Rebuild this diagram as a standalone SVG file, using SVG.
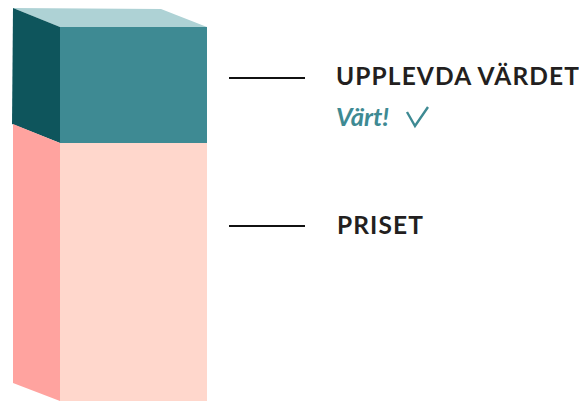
<svg xmlns="http://www.w3.org/2000/svg" width="579" height="401" viewBox="0 0 579 401">
<style>
.lbl{font-family:"Lato","Liberation Sans",sans-serif;font-weight:bold;fill:#231f20;font-size:24.5px;letter-spacing:1.1px}
.sub{font-family:"Lato","Liberation Sans",sans-serif;font-weight:bold;font-style:italic;fill:#3e8a93;font-size:25.5px}
.ln{stroke:#111;stroke-width:2.2;fill:none}
</style>
<g id="bar">
<g id="value-block">
<polygon points="13,8 161,9 207,27 60,27" fill="#aed2d5"/>
<polygon points="13,8 60,27 60,143 12,124" fill="#0e555c"/>
<rect x="60" y="27" width="147" height="116" fill="#3e8a93"/>
</g>
<g id="price-block">
<polygon points="13,124 60,143 60,401 13,383" fill="#ffa39f"/>
<rect x="60" y="143" width="147" height="258" fill="#ffd7cc"/>
</g>
</g>
<g id="connectors">
<line class="ln" x1="229" y1="78" x2="305" y2="78"/>
<line class="ln" x1="229" y1="226" x2="305" y2="226"/>
</g>
<g id="label-value">
<text class="lbl" x="336" y="85">UPPLEVDA VÄRDET</text>
<text class="sub" x="336" y="126">Värt!</text>
<path d="M407,112 L415,126 L428,107" stroke="#3e8a93" stroke-width="2.4" fill="none"/>
</g>
<g id="label-price">
<text class="lbl" x="337" y="234">PRISET</text>
</g>
</svg>
